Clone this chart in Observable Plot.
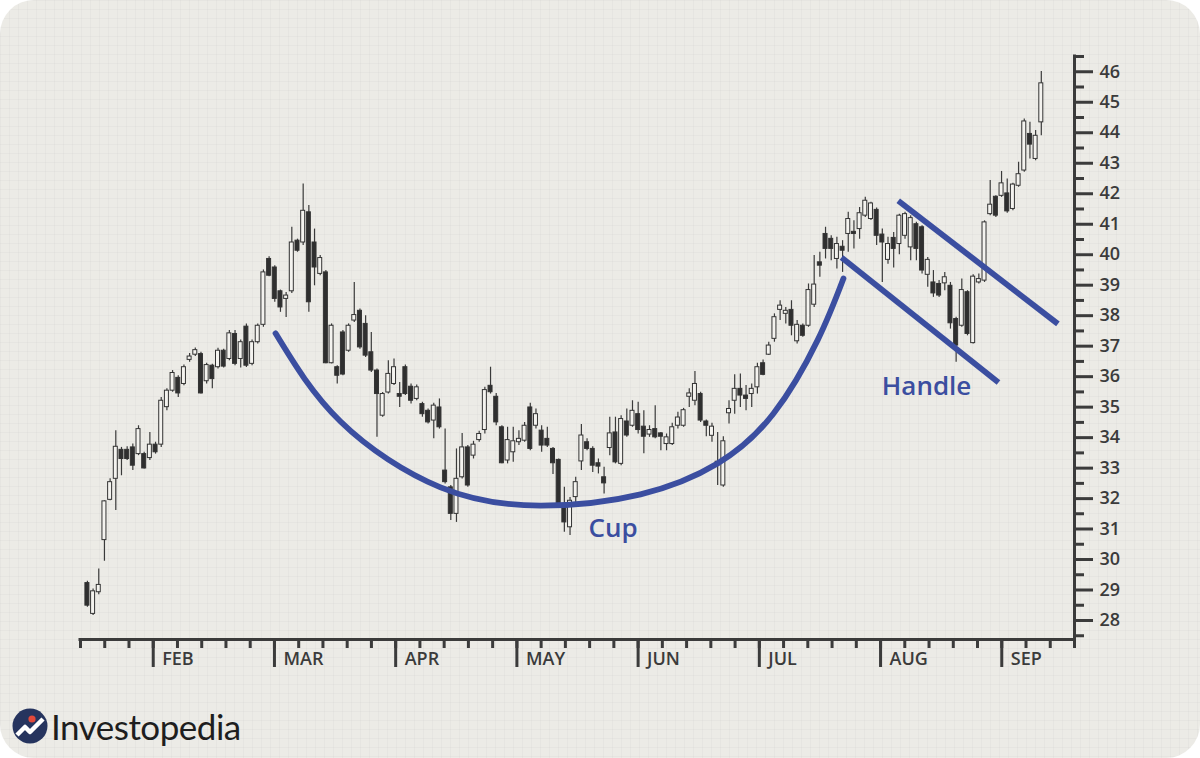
<!DOCTYPE html>
<html><head><meta charset="utf-8">
<script src="https://cdn.jsdelivr.net/npm/d3@7"></script>
<script src="https://cdn.jsdelivr.net/npm/@observablehq/plot@0.6"></script>
<style>
html,body{margin:0;padding:0;background:#ffffff;}
#card{position:relative;width:1200px;height:758px;border-radius:34px;overflow:hidden;background-color:#ecebe6;
background-image:linear-gradient(rgba(0,0,0,0.022) 1px, transparent 1px),linear-gradient(90deg, rgba(0,0,0,0.022) 1px, transparent 1px);
background-size:9px 9px;}
#chart{position:absolute;left:0;top:0;}
#logo{position:absolute;left:12px;top:707px;display:flex;align-items:center;}
#logo span{font-family:Lato,'Open Sans',sans-serif;font-size:35px;color:#1e1e1e;letter-spacing:-0.5px;margin-left:3px;line-height:38px;}
</style></head><body>
<div id="card"><div id="chart"></div>
<div id="logo"><svg width="36" height="36" viewBox="0 0 36 36"><circle cx="18" cy="18" r="17.5" fill="#26345e"/><path d="M5 27 L13 19 L18 24 L31 11" fill="none" stroke="#ffffff" stroke-width="4.5" stroke-linejoin="round"/><circle cx="20" cy="11" r="3.6" fill="#e2493b"/></svg><span>Investopedia</span></div>
</div>
<script>
// ---- candle data (one entry per trading day) ----
const openP = [29.23,28.22,28.93,30.64,31.96,32.65,33.60,33.60,33.68,33.46,33.46,33.33,33.77,33.77,35.00,35.54,35.96,35.76,36.55,36.72,
36.74,35.85,36.36,36.31,36.85,36.58,37.40,36.58,37.64,36.42,37.13,37.70,39.86,39.58,38.80,38.55,38.80,40.46,40.40,41.39,
40.40,39.37,39.42,36.44,36.31,37.45,36.85,37.84,38.16,37.73,36.80,36.20,34.72,35.48,35.76,35.43,36.31,35.67,35.27,35.10,
34.88,34.56,34.99,32.92,32.37,31.50,32.70,33.68,33.41,33.92,34.25,35.70,35.34,34.34,33.25,33.52,33.85,33.90,34.99,34.39,
34.23,33.96,33.63,33.27,31.72,31.06,32.05,33.22,33.85,33.63,33.16,32.70,33.66,34.17,33.14,34.53,34.39,34.77,34.36,34.10,
34.28,34.14,33.79,33.79,34.39,34.39,35.34,35.21,35.43,34.53,34.06,33.21,32.43,34.80,35.21,35.60,35.38,35.43,35.65,36.44,
36.72,37.24,38.19,38.06,38.19,37.16,37.67,37.67,38.36,39.75,40.68,40.52,39.86,40.26,40.68,40.75,40.84,41.28,41.17,41.47,
40.66,39.83,40.55,40.35,40.62,40.24,41.00,40.90,39.34,39.09,39.04,39.06,38.98,37.89,37.67,38.77,37.10,39.09,39.15,41.33,
41.90,41.93,42.01,41.50,42.26,42.76,43.96,43.14,44.34];
const highP = [29.29,29.04,29.69,31.93,32.65,34.23,33.68,33.70,33.79,34.39,33.52,34.17,33.85,35.32,35.60,36.20,36.03,36.38,36.76,36.94,
36.80,36.44,36.41,36.93,36.90,37.51,37.51,37.20,37.73,37.20,37.73,39.50,39.93,39.64,38.84,38.76,40.90,40.51,42.32,41.61,
40.84,39.97,39.48,37.73,36.36,37.51,37.73,39.09,38.22,38.00,37.45,36.25,35.48,36.52,36.58,35.81,36.38,35.76,35.73,35.16,
34.94,35.13,35.27,34.28,32.43,33.63,34.14,33.74,33.88,34.21,35.65,36.31,35.45,34.39,34.34,34.34,34.23,34.50,35.13,34.94,
34.39,34.34,33.68,33.30,32.37,32.04,32.70,34.43,33.96,33.70,33.30,33.03,34.67,34.67,34.72,34.94,35.21,35.16,34.88,34.39,
35.05,34.17,34.12,34.47,34.83,34.96,35.60,36.17,35.49,34.58,34.47,34.17,34.03,35.21,36.06,36.09,35.71,35.76,36.44,36.55,
37.13,38.06,38.49,38.27,38.49,37.84,37.73,39.04,39.97,40.08,40.90,40.62,40.57,40.46,41.39,41.11,41.55,41.88,41.72,41.53,
40.84,40.57,40.73,41.33,41.39,41.28,41.06,40.95,39.91,39.48,39.15,39.42,39.09,37.95,39.20,38.82,39.34,39.37,41.11,42.43,
41.93,42.73,42.48,42.34,43.03,44.45,44.34,44.07,46.01];
const lowP = [28.44,28.17,28.85,29.95,31.93,31.61,32.75,33.25,32.92,33.41,32.97,33.25,33.46,33.68,34.88,35.49,35.32,35.70,36.47,36.66,
35.43,35.76,35.60,36.25,36.28,36.52,36.36,36.28,36.30,36.36,37.07,37.62,39.28,38.44,38.11,37.94,38.73,40.08,40.30,38.11,
38.98,39.31,36.42,36.42,35.76,36.03,36.80,37.78,36.90,36.63,36.14,34.01,34.67,35.43,35.71,34.99,35.38,35.10,35.21,34.67,
34.45,33.96,34.28,32.48,31.28,31.22,32.64,32.37,33.30,33.85,34.12,35.43,34.39,33.14,33.14,33.19,33.74,33.85,33.57,34.28,
33.52,33.68,32.79,31.77,30.90,30.79,31.82,32.92,33.57,32.86,32.81,32.15,33.41,33.14,33.08,34.01,34.34,34.12,33.47,34.01,
33.96,33.57,33.57,33.74,34.28,34.34,34.99,35.05,34.50,34.03,33.85,32.43,32.37,34.45,34.77,34.99,34.88,34.99,35.43,36.03,
36.69,37.13,37.84,37.73,37.34,37.07,37.29,37.62,38.27,39.26,39.86,39.80,39.53,39.42,40.08,40.19,40.51,41.22,41.12,40.30,
39.09,39.69,39.56,40.00,40.51,39.80,39.80,39.37,38.93,38.60,38.60,38.82,37.56,36.47,37.62,37.34,37.07,39.04,39.09,41.28,
41.22,41.88,41.36,41.44,42.21,42.70,43.14,43.08,43.90];
const closeP = [28.49,28.96,29.17,31.91,32.54,33.70,33.30,33.30,33.08,34.28,32.99,33.77,33.52,35.21,35.54,36.12,35.45,36.31,36.66,36.87,
35.45,36.38,35.92,36.85,36.33,37.42,36.42,37.13,36.36,37.13,37.67,39.42,39.31,38.55,38.27,38.66,40.40,40.13,41.44,38.44,
39.58,39.89,36.44,37.67,36.03,36.07,37.67,38.02,36.96,36.69,36.20,35.43,35.43,36.09,36.31,35.34,35.43,35.21,35.65,34.77,
34.50,35.05,34.34,32.54,31.50,32.65,33.68,32.43,33.77,34.12,35.56,35.49,34.50,33.16,33.92,33.88,33.96,34.39,33.63,34.77,
33.74,33.74,33.16,31.82,31.22,31.93,32.54,34.07,33.63,33.08,33.05,32.50,34.14,33.19,34.61,34.07,34.88,34.25,34.03,34.25,
34.01,34.03,34.01,34.34,34.66,34.90,35.45,35.76,34.56,34.39,34.36,33.10,33.88,34.94,35.60,35.38,35.27,35.60,36.31,36.06,
37.02,37.95,38.33,38.16,37.67,37.70,37.34,38.84,39.02,39.64,40.19,40.19,40.35,40.13,41.17,40.68,41.36,41.77,41.68,40.62,
40.40,40.35,40.19,41.28,41.33,41.20,40.19,39.48,39.83,38.73,38.66,39.26,37.75,37.02,38.84,37.40,39.28,39.20,41.06,41.64,
41.28,42.34,41.42,42.30,42.64,44.37,43.61,43.90,45.62];

// ---- time axis (in months: 1 = FEB ... 8 = SEP) ----
const monthLabels = ["FEB","MAR","APR","MAY","JUN","JUL","AUG","SEP"];
const monthTicks = [1,2,3,4,5,6,7,8];
const weekTicks = d3.range(0.4, 8.61, 0.2);
const dayStart = 0.457;   // first trading day
const dayStep = 0.04684;  // one trading day, in months
const xDomain = [0.4, 8.6];

// ---- price axis ----
const yDomain = [27.38, 46.5];
const priceTicks = d3.range(28, 47, 1);
const halfTicks = d3.range(27.5, 46.6, 0.5).filter(v => v % 1 !== 0);

// ---- pattern annotations (month, price) ----
const cupT = [2.009, 2.545, 3.370, 4.195, 5.020, 5.655, 6.117, 6.480, 6.694];
const cupP = [37.42, 34.53, 32.37, 31.77, 32.14, 33.15, 34.79, 37.19, 39.22];
const handleT1 = [6.678, 7.146], handleP1 = [39.91, 41.77];
const handleT2 = [7.973, 8.463], handleP2 = [35.81, 37.73];
const labelText = ["Cup", "Handle"];
const labelT = [4.59, 7.01];
const labelP = [31.02, 35.67];

const candles = openP.map((o, i) => ({t: dayStart + i * dayStep, open: o, high: highP[i], low: lowP[i], close: closeP[i]}));
const cup = cupT.map((t, i) => ({t, p: cupP[i]}));
const handle = handleT1.map((t, i) => ({x1: t, y1: handleP1[i], x2: handleT2[i], y2: handleP2[i]}));
const labels = labelText.map((s, i) => ({s, t: labelT[i], p: labelP[i]}));

const ink = "#3b3b3b";
const blue = "#3b4ea0";
const bodyHalf = 0.0165;

const chart = Plot.plot({
  width: 1200, height: 700,
  marginLeft: 80, marginRight: 126, marginTop: 56, marginBottom: 61,
  style: {background: "transparent", fontFamily: "'Open Sans', sans-serif", color: ink, overflow: "visible"},
  x: {domain: xDomain, axis: null},
  y: {domain: yDomain, axis: null},
  color: {type: "identity"},
  marks: [
    Plot.ruleX(candles, {x: "t", y1: "low", y2: "high", stroke: "#3a3a3a", strokeWidth: 1.2}),
    Plot.rect(candles, {
      x1: d => d.t - bodyHalf, x2: d => d.t + bodyHalf,
      y1: d => Math.min(d.open, d.close), y2: d => Math.max(d.open, d.close),
      fill: d => d.close >= d.open ? "#f4f3ef" : "#2f2f2f",
      stroke: "#333333", strokeWidth: 1
    }),
    Plot.line(cup, {x: "t", y: "p", curve: "natural", stroke: blue, strokeWidth: 5.8}),
    Plot.link(handle, {x1: "x1", y1: "y1", x2: "x2", y2: "y2", stroke: blue, strokeWidth: 5.8}),
    Plot.text(labels, {x: "t", y: "p", text: "s", textAnchor: "start", fontSize: 26, fontWeight: 600, fill: blue}),
    // axes
    Plot.ruleY([yDomain[0]], {stroke: ink, strokeWidth: 3, strokeLinecap: "square"}),
    Plot.ruleX([xDomain[1]], {stroke: ink, strokeWidth: 3, strokeLinecap: "square"}),
    Plot.axisX(weekTicks, {anchor: "bottom", tickSize: 9, tickFormat: () => "", stroke: ink, strokeWidth: 3}),
    Plot.axisX(monthTicks, {anchor: "bottom", tickSize: 28, tickFormat: () => "", stroke: ink, strokeWidth: 3}),
    Plot.text(monthTicks, {x: d => d, frameAnchor: "bottom", dy: 25, dx: 9, text: (d, i) => monthLabels[i], textAnchor: "start", fontSize: 18, fontWeight: 600, fill: ink}),
    Plot.axisY(halfTicks, {anchor: "right", tickSize: 9, tickFormat: () => "", stroke: ink, strokeWidth: 3}),
    Plot.axisY(priceTicks, {anchor: "right", tickSize: 18, tickPadding: 7, fontSize: 18, fontWeight: 600, stroke: ink, strokeWidth: 3, fill: ink})
  ]
});
document.getElementById("chart").appendChild(chart);
</script>
</body></html>
